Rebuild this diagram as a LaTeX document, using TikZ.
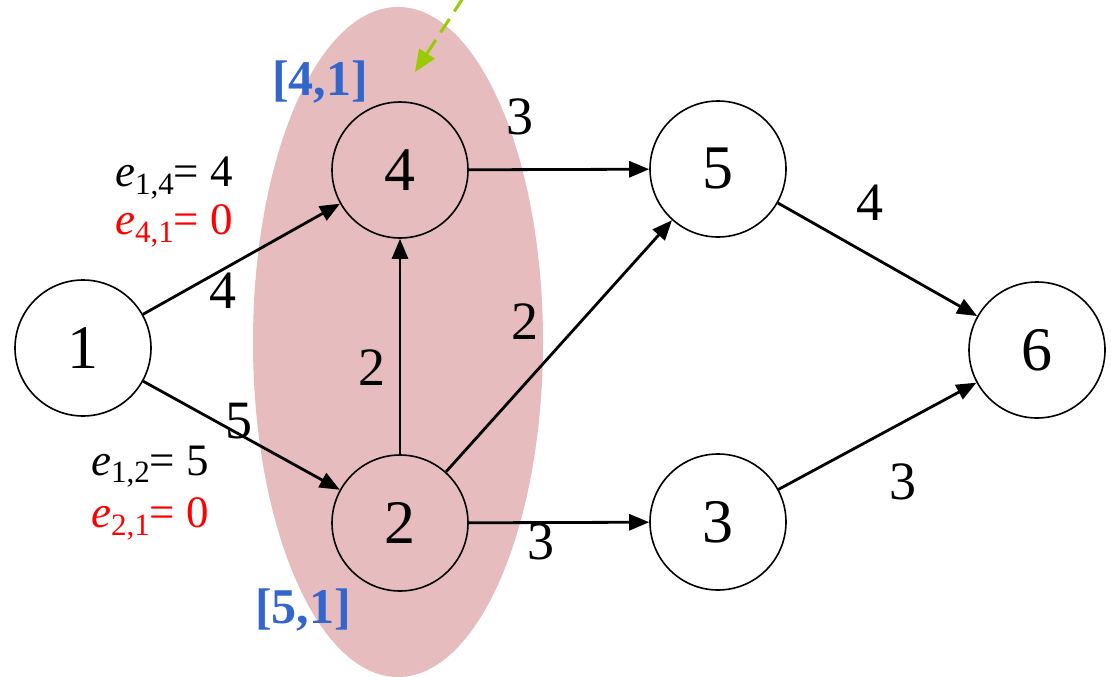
\documentclass[tikz,border=0pt]{standalone}
\usepackage{fontspec}
\setmainfont{Liberation Serif}
\usetikzlibrary{arrows.meta}
\definecolor{blobpink}{RGB}{230,188,190}
\definecolor{lblblue}{RGB}{51,102,204}
\definecolor{arrgreen}{RGB}{153,204,0}
\definecolor{ered}{RGB}{255,0,0}
\newcommand{\esub}[1]{\textit{e}\raisebox{-0.35ex}{\fontsize{31}{31}\selectfont #1}}
\begin{document}
\begin{tikzpicture}[x=1pt,y=-1pt,
  vertex/.style={circle,draw=black,line width=1.6pt,minimum size=136pt,inner sep=0pt,font=\fontsize{62}{62}\selectfont},
  edge/.style={line width=2.8pt,-{Triangle[length=20pt,width=16pt]}},
  wlabel/.style={font=\fontsize{54}{54}\selectfont,inner sep=0pt},
  elabel/.style={font=\fontsize{45}{45}\selectfont,inner sep=0pt,align=left},
  blab/.style={font=\fontsize{50}{50}\selectfont\bfseries,text=lblblue,inner sep=0pt}]
\useasboundingbox[fill=white] (0,0) rectangle (1111,677);
\fill[blobpink] (398,342) ellipse [x radius=145, y radius=335];
\coordinate (gs) at (463,-2);
\coordinate (ge) at (415,72);
\draw[arrgreen,line width=3pt,dash pattern=on 16pt off 9pt,-{Triangle[length=22pt,width=18pt]}] (gs) -- (ge);
\node[vertex] (n1) at (83,348) {1};
\node[vertex] (n4) at (400,170) {4};
\node[vertex] (n2) at (400,523) {2};
\node[vertex] (n5) at (718,169) {5};
\node[vertex] (n3) at (718,522) {3};
\node[vertex] (n6) at (1037,350) {6};
\draw[edge] (n1) -- (n4);
\draw[edge] (n1) -- (n2);
\draw[edge] (n2) -- (n4);
\draw[edge] (n4) -- (n5);
\draw[edge] (n2) -- (n5);
\draw[edge] (n2) -- (n3);
\draw[edge] (n5) -- (n6);
\draw[edge] (n3) -- (n6);
\node[wlabel] (w14) at (223,291) {4};
\node[wlabel] (w12) at (239,421) {5};
\node[wlabel] (w24) at (372,368) {2};
\node[wlabel] (w45) at (520,117) {3};
\node[wlabel] (w25) at (525,322) {2};
\node[wlabel] (w23) at (541,542) {3};
\node[wlabel] (w56) at (870,203) {4};
\node[wlabel] (w36) at (903,482) {3};
\node[elabel] (e14) at (174,178) {\esub{1,4}= 4};
\node[elabel,text=ered] (e41) at (174,226) {\esub{4,1}= 0};
\node[elabel] (e12) at (150,467) {\esub{1,2}= 5};
\node[elabel,text=ered] (e21) at (150,519) {\esub{2,1}= 0};
\node[blab] (b41) at (320,82) {[4,1]};
\node[blab] (b51) at (303,610) {[5,1]};
\end{tikzpicture}
\end{document}
